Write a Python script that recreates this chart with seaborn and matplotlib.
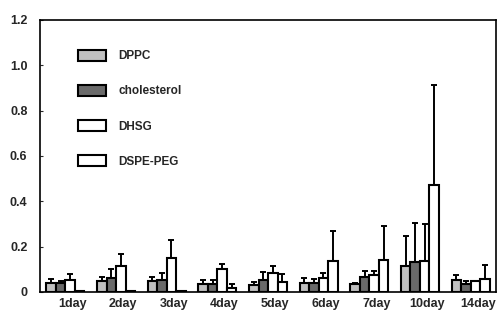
import matplotlib
matplotlib.use("Agg")
import matplotlib.pyplot as plt
import matplotlib.transforms as mtransforms
import numpy as np
import pandas as pd
import seaborn as sns

days = ["1day", "2day", "3day", "4day", "5day", "6day", "7day", "10day", "14day"]
series = ["DPPC", "cholesterol", "DHSG", "DSPE-PEG"]

dppc = [0.040, 0.050, 0.050, 0.035, 0.030, 0.040, 0.034, 0.113, 0.054]
dppc_err = [0.017, 0.014, 0.014, 0.018, 0.014, 0.020, 0.006, 0.133, 0.021]
chol = [0.040, 0.063, 0.053, 0.036, 0.055, 0.040, 0.067, 0.132, 0.035]
chol_err = [0.007, 0.037, 0.030, 0.017, 0.033, 0.017, 0.025, 0.174, 0.015]
dhsg = [0.055, 0.114, 0.152, 0.100, 0.083, 0.063, 0.073, 0.138, 0.050]
dhsg_err = [0.023, 0.052, 0.076, 0.025, 0.031, 0.023, 0.019, 0.160, 0.000]
dspe = [0.004, 0.004, 0.004, 0.019, 0.042, 0.136, 0.141, 0.473, 0.056]
dspe_err = [0.000, 0.000, 0.000, 0.016, 0.036, 0.132, 0.149, 0.441, 0.063]

vals = {"DPPC": dppc, "cholesterol": chol, "DHSG": dhsg, "DSPE-PEG": dspe}
errs = {"DPPC": dppc_err, "cholesterol": chol_err, "DHSG": dhsg_err, "DSPE-PEG": dspe_err}

rows = []
for s in series:
    for d, v in zip(days, vals[s]):
        rows.append({"day": d, "series": s, "value": v})
df = pd.DataFrame(rows)

sns.set_style("white")
plt.rcParams["font.family"] = ["Liberation Sans", "DejaVu Sans"]
plt.rcParams["font.weight"] = "bold"

fig = plt.figure(figsize=(4.99, 3.21), dpi=100)
ax = fig.add_axes([40 / 499, 29 / 321, 456 / 499, 272 / 321])

palette = {"DPPC": "#c0c0c0", "cholesterol": "#6a6a6a", "DHSG": "white", "DSPE-PEG": "white"}
sns.barplot(data=df, x="day", y="value", hue="series", order=days, hue_order=series,
            palette=palette, errorbar=None, width=0.75, edgecolor="black", linewidth=1.5,
            saturation=1, ax=ax, legend=True)

for cont, s in zip(ax.containers, series):
    xs = [p.get_x() + p.get_width() / 2 for p in cont.patches]
    hs = [p.get_height() for p in cont.patches]
    e = errs[s]
    ax.errorbar(xs, hs, yerr=[np.zeros(len(e)), e], fmt="none", ecolor="black",
                elinewidth=1.4, capsize=2, capthick=1.4, zorder=1)

ax.set_ylim(0, 1.2)
ax.set_xlim(-0.5, 8.5)
ax.set_yticks([0, 0.2, 0.4, 0.6, 0.8, 1.0, 1.2])
ax.set_yticklabels(["0", "0.2", "0.4", "0.6", "0.8", "1.0", "1.2"])
ax.tick_params(axis="y", direction="in", length=2, width=0.8, left=True, labelsize=9, pad=9)
ax.tick_params(axis="x", length=0, labelsize=9, pad=4)
offset = mtransforms.ScaledTranslation(7 / 100, 0, fig.dpi_scale_trans)
for lab in ax.get_xticklabels():
    lab.set_transform(lab.get_transform() + offset)
    lab.set_fontweight("bold")
for lab in ax.get_yticklabels():
    lab.set_fontweight("bold")
ax.set_xlabel("")
ax.set_ylabel("")
for sp in ax.spines.values():
    sp.set_visible(True)
    sp.set_color("black")
    sp.set_linewidth(1.2)

leg = ax.legend(loc="upper left", bbox_to_anchor=(0.06, 0.93), frameon=False,
                handlelength=2.4, handleheight=1.1, labelspacing=1.9, handletextpad=1.0,
                prop={"size": 8.5, "weight": "bold"})

fig.savefig("out.png", dpi=100)
